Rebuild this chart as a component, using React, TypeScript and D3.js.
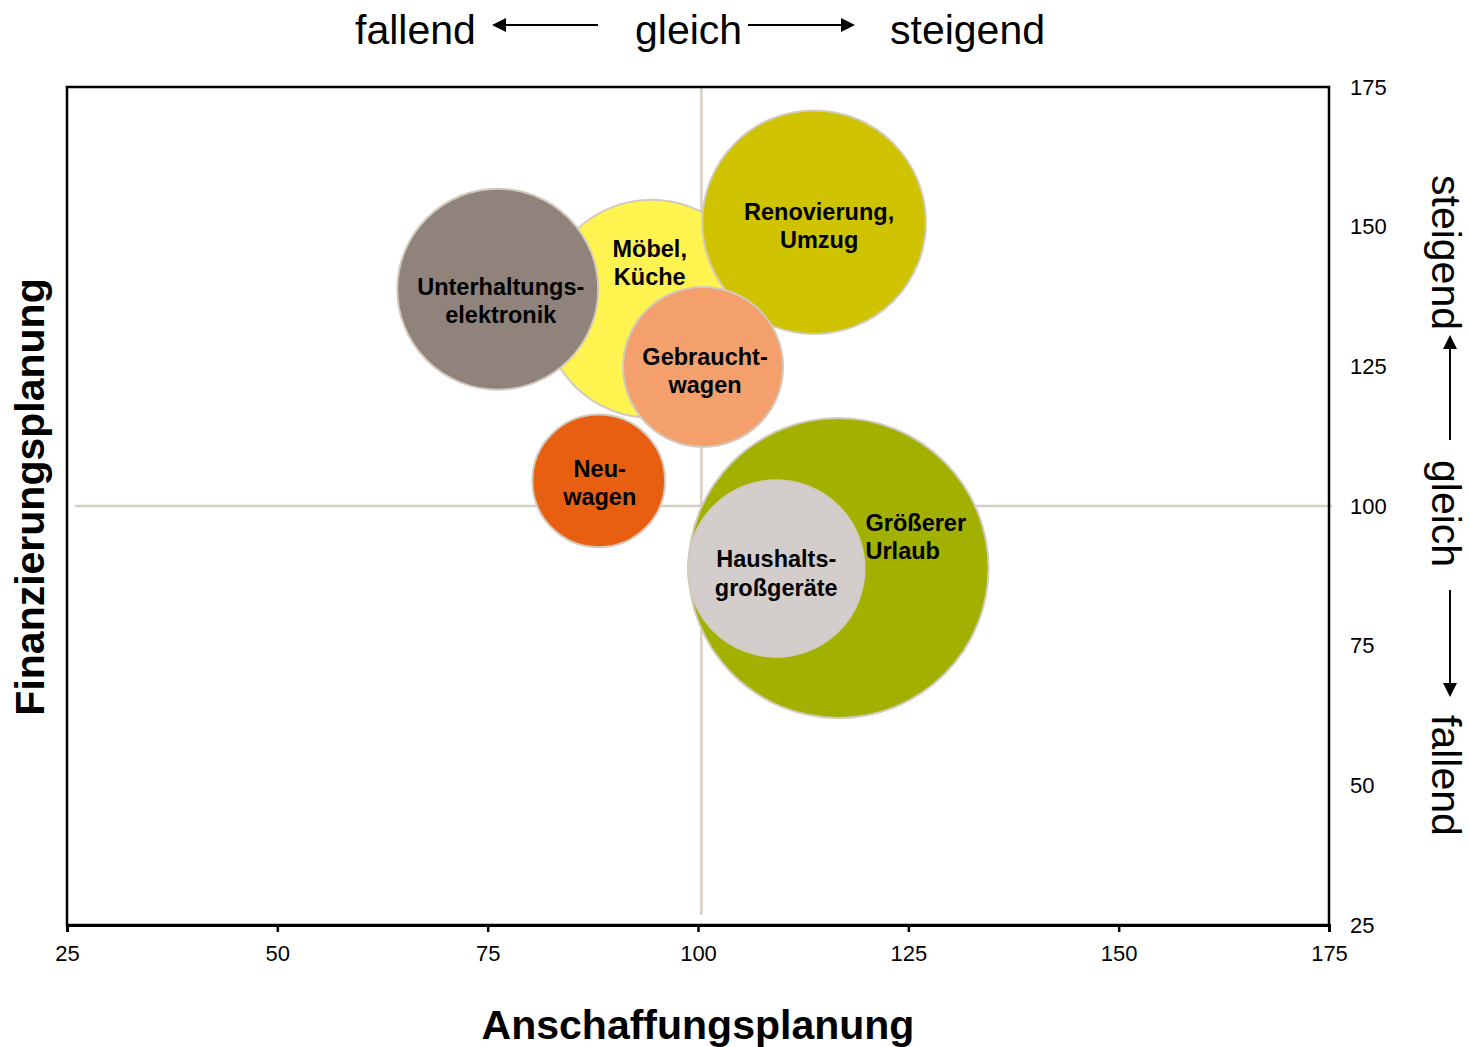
import { useEffect, useRef } from "react";
import * as d3 from "d3";

// bubbles, in drawing order (back to front)
const NAMES = [
  ["Möbel,", "Küche"],
  ["Renovierung,", "Umzug"],
  ["Unterhaltungs-", "elektronik"],
  ["Gebraucht-", "wagen"],
  ["Neu-", "wagen"],
  ["Größerer", "Urlaub"],
  ["Haushalts-", "großgeräte"],
];
const ANSCHAFFUNG = [94.5, 113.8, 76.2, 100.6, 88.2, 116.7, 109.3];
const FINANZIERUNG = [135.3, 150.8, 138.8, 124.9, 104.5, 88.9, 88.8];
const SIZE = [119, 125, 101, 64, 44, 225, 78];
const COLORS = ["#fff44f", "#cfc300", "#8f837c", "#f4a06c", "#e85f12", "#a2b100", "#d3cecb"];

const X_TICKS = [25, 50, 75, 100, 125, 150, 175];
const Y_TICKS = [25, 50, 75, 100, 125, 150, 175];
const CROSS_X = 100.4;
const CROSS_Y = 100;

// label placement relative to bubble centre (px)
const LABEL_POS = [
  { dx: -2, dy: -46, anchor: "middle" },
  { dx: 5, dy: 4, anchor: "middle" },
  { dx: 3, dy: 12, anchor: "middle" },
  { dx: 2, dy: 4, anchor: "middle" },
  { dx: 1, dy: 2, anchor: "middle" },
  { dx: 27, dy: -31, anchor: "start" },
  { dx: 0, dy: 5, anchor: "middle" },
];

const FONT = "'Liberation Sans', Arial, sans-serif";

export default function App() {
  const ref = useRef<SVGSVGElement>(null);

  useEffect(() => {
    document.body.style.margin = "0";
    if (!ref.current) return;
    const w = 1470;
    const h = 1047;
    const m = { top: 87, right: 141, bottom: 122, left: 67 };

    const svg = d3.select(ref.current);
    svg.selectAll("*").remove();
    svg.attr("width", w).attr("height", h).attr("viewBox", `0 0 ${w} ${h}`);

    const x = d3.scaleLinear().domain([25, 175]).range([m.left, w - m.right]);
    const y = d3.scaleLinear().domain([25, 175]).range([h - m.bottom, m.top]);
    const r = d3.scaleSqrt().domain([0, 225]).range([0, 150]);

    // crosshair
    const cross = "#d6cfc4";
    svg
      .append("line")
      .attr("x1", x(CROSS_X))
      .attr("x2", x(CROSS_X))
      .attr("y1", y(175))
      .attr("y2", y(25) - 10)
      .attr("stroke", cross)
      .attr("stroke-width", 2.5);
    svg
      .append("line")
      .attr("x1", x(25) + 8)
      .attr("x2", x(175) + 3)
      .attr("y1", y(CROSS_Y))
      .attr("y2", y(CROSS_Y))
      .attr("stroke", cross)
      .attr("stroke-width", 2.5);

    const data = NAMES.map((n, i) => ({
      name: n,
      a: ANSCHAFFUNG[i],
      f: FINANZIERUNG[i],
      s: SIZE[i],
      color: COLORS[i],
      pos: LABEL_POS[i],
    }));

    svg
      .append("g")
      .selectAll("circle")
      .data(data)
      .join("circle")
      .attr("cx", (d) => x(d.a))
      .attr("cy", (d) => y(d.f))
      .attr("r", (d) => r(d.s))
      .attr("fill", (d) => d.color)
      .attr("stroke", "#d2cabd")
      .attr("stroke-width", 2);

    const labels = svg
      .append("g")
      .selectAll("text")
      .data(data)
      .join("text")
      .attr("font-family", FONT)
      .attr("font-weight", "bold")
      .attr("font-size", 23.5)
      .attr("fill", "#000")
      .attr("text-anchor", (d) => d.pos.anchor);
    labels.each(function (d) {
      const t = d3.select(this);
      const cx = x(d.a) + d.pos.dx;
      const cy = y(d.f) + d.pos.dy;
      d.name.forEach((line, i) => {
        t.append("tspan")
          .attr("x", cx)
          .attr("y", cy + (i - (d.name.length - 1) / 2) * 28.5 + 8)
          .text(line);
      });
    });

    // frame
    svg
      .append("rect")
      .attr("x", x(25))
      .attr("y", y(175))
      .attr("width", x(175) - x(25))
      .attr("height", y(25) - y(175))
      .attr("fill", "none")
      .attr("stroke", "#000")
      .attr("stroke-width", 2.5);

    const xAxis = svg
      .append("g")
      .attr("transform", `translate(0,${y(25)})`)
      .call(d3.axisBottom(x).tickValues(X_TICKS).tickSize(7).tickPadding(13).tickFormat(d3.format("d")));
    xAxis.select(".domain").attr("stroke-width", 3);
    xAxis.selectAll(".tick line").attr("stroke-width", 2.5);
    xAxis.selectAll("text").attr("font-family", FONT).attr("font-size", 22).attr("fill", "#000");

    const yAxis = svg
      .append("g")
      .attr("transform", `translate(${x(175)},0)`)
      .call(d3.axisRight(y).tickValues(Y_TICKS).tickSize(0).tickPadding(21).tickFormat(d3.format("d")));
    yAxis.select(".domain").remove();
    yAxis.selectAll("text").attr("font-family", FONT).attr("font-size", 22).attr("fill", "#000");

    // axis titles
    svg
      .append("text")
      .attr("x", (x(25) + x(175)) / 2)
      .attr("y", 1039)
      .attr("text-anchor", "middle")
      .attr("font-family", FONT)
      .attr("font-weight", "bold")
      .attr("font-size", 41)
      .text("Anschaffungsplanung");
    svg
      .append("text")
      .attr("transform", `translate(44,497) rotate(-90)`)
      .attr("text-anchor", "middle")
      .attr("font-family", FONT)
      .attr("font-weight", "bold")
      .attr("font-size", 41)
      .text("Finanzierungsplanung");

    // direction hints
    const arrow = (g: d3.Selection<SVGGElement, unknown, null, undefined>, x1: number, x2: number) => {
      // line from x1 to x2, head at x2 (horizontal in local coords)
      const dir = Math.sign(x2 - x1);
      g.append("line")
        .attr("x1", x1)
        .attr("x2", x2 - dir * 12)
        .attr("y1", 0)
        .attr("y2", 0)
        .attr("stroke", "#000")
        .attr("stroke-width", 2);
      g.append("path")
        .attr("d", `M${x2},0 L${x2 - dir * 14},-7 L${x2 - dir * 14},7 Z`)
        .attr("fill", "#000");
    };
    const hint = (g: d3.Selection<SVGGElement, unknown, null, undefined>, parts: { t: string; at: number }[]) => {
      parts.forEach((p) =>
        g.append("text")
          .attr("x", p.at)
          .attr("y", 0)
          .attr("font-family", FONT)
          .attr("font-size", 41)
          .attr("fill", "#000")
          .text(p.t)
      );
    };

    const top = svg.append("g").attr("transform", "translate(0,44)");
    hint(top, [
      { t: "fallend", at: 355 },
      { t: "gleich", at: 635 },
      { t: "steigend", at: 890 },
    ]);
    const topArrows = svg.append("g").attr("transform", "translate(0,25)");
    arrow(topArrows, 598, 492);
    arrow(topArrows, 748, 855);

    const side = svg.append("g").attr("transform", "translate(1432,0) rotate(90)");
    hint(side, [
      { t: "steigend", at: 175 },
      { t: "gleich", at: 460 },
      { t: "fallend", at: 715 },
    ]);
    const sideArrows = svg.append("g").attr("transform", "translate(1450,0) rotate(90)");
    arrow(sideArrows, 440, 335);
    arrow(sideArrows, 590, 697);
  }, []);

  return <svg ref={ref} style={{ display: "block" }} />;
}
